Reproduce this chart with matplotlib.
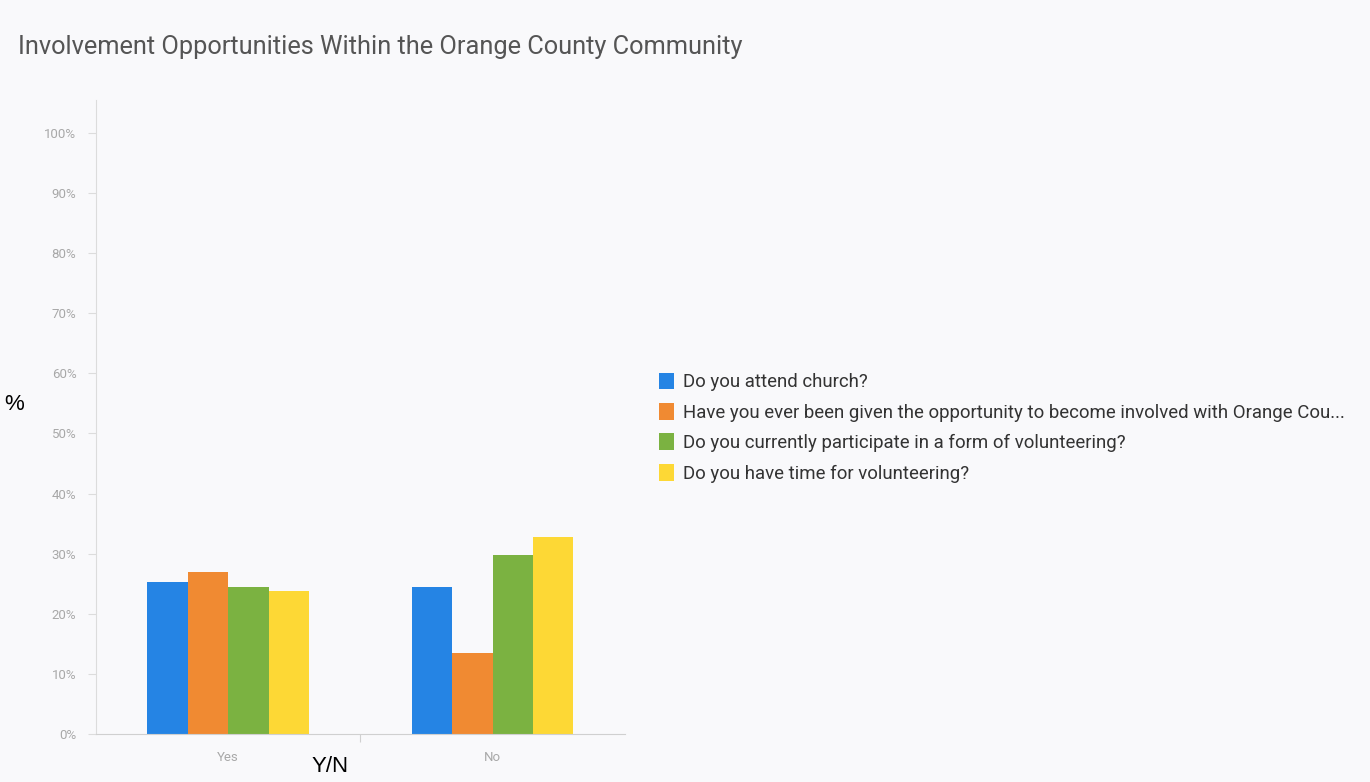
import matplotlib.pyplot as plt
import numpy as np

categories = ['Yes', 'No']
series_names = [
    'Do you attend church?',
    'Have you ever been given the opportunity to become involved with Orange Cou...',
    'Do you currently participate in a form of volunteering?',
    'Do you have time for volunteering?',
]
church = [25.3, 24.4]
opportunity = [27.0, 13.5]
volunteering = [24.4, 29.8]
time_for = [23.8, 32.7]
y_ticks = [0, 10, 20, 30, 40, 50, 60, 70, 80, 90, 100]

colors = ['#2584e4', '#f08a32', '#7bb241', '#fdd835']
bg = '#f9f9fb'

plt.rcParams['font.family'] = ['Roboto', 'DejaVu Sans']

fig = plt.figure(figsize=(13.7, 7.82), dpi=100, facecolor=bg)
ax = fig.add_axes([0.070, 0.0614, 0.386, 0.811], facecolor=bg)

x = np.arange(len(categories))
width = 0.153
all_series = [church, opportunity, volunteering, time_for]
bars = []
for i, vals in enumerate(all_series):
    b = ax.bar(x + (i - 1.5) * width, vals, width, color=colors[i], label=series_names[i])
    bars.append(b)

ax.set_xlim(-0.5, 1.5)
ax.set_ylim(0, 105.5)
ax.set_yticks(y_ticks)
ax.set_yticklabels([f'{t}%' for t in y_ticks])
ax.set_xticks(x)
ax.set_xticklabels(categories)
ax.set_xticks([0.5], minor=True)
ax.tick_params(axis='y', labelsize=9.5, length=6, width=0.8, color='#dcdcdc', pad=8)
ax.tick_params(axis='x', which='major', labelsize=9.5, length=0, pad=12)
ax.tick_params(axis='x', which='minor', length=6, color='#d0d0d0', width=0.8)
for lab in ax.get_yticklabels() + ax.get_xticklabels():
    lab.set_color('#a8a8a8')

for s in ['top', 'right']:
    ax.spines[s].set_visible(False)
ax.spines['left'].set_color('#dcdcdc')
ax.spines['bottom'].set_color('#d0d0d0')

fig.text(0.013, 0.94, 'Involvement Opportunities Within the Orange County Community',
         fontsize=18.3, color='#555555', va='center', ha='left')
fig.text(0.003, 0.483, '%', fontsize=16, color='black', va='center', ha='left',
         family=['Liberation Sans'])
fig.text(0.241, 0.020, 'Y/N', fontsize=16, color='black', va='center', ha='center',
         family=['Liberation Sans'])

fig.legend(handles=[b[0] for b in bars], labels=series_names,
           loc='upper left', bbox_to_anchor=(0.469, 0.545), frameon=False,
           fontsize=13.4, handlelength=0.8, handleheight=1.0, handletextpad=0.45,
           labelspacing=0.63, labelcolor='#333333')

fig.savefig('out.png', dpi=100, facecolor=bg)
